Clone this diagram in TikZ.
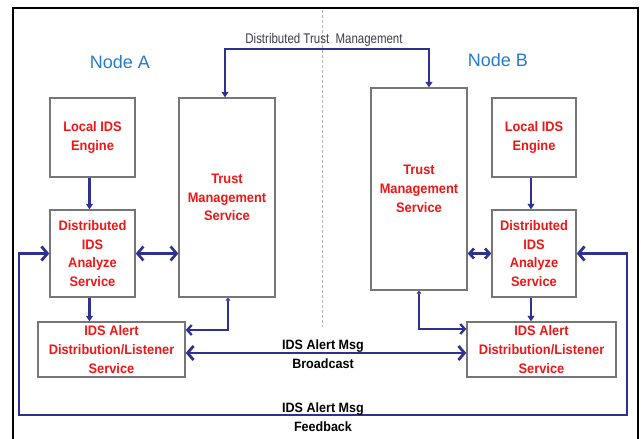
\documentclass[tikz,border=0pt]{standalone}
\usepackage{fontspec}
\setmainfont{Liberation Sans}
\newfontfamily\narrowsans[FakeStretch=0.93]{Liberation Sans}
\newfontfamily\slimsans[FakeStretch=0.82]{Liberation Sans}
\usetikzlibrary{arrows.meta}

\definecolor{idsred}{RGB}{240,22,22}
\definecolor{boxgray}{RGB}{118,118,118}
\definecolor{linknavy}{RGB}{46,49,146}
\definecolor{nodeblue}{RGB}{38,122,204}
\definecolor{notegray}{RGB}{60,60,75}

\tikzset{
  x=1pt, y=-1pt,
  svcbox/.style={draw=boxgray, line width=1.4pt, inner sep=0pt, align=center,
    text=idsred, font={\narrowsans\bfseries\fontsize{13.8}{18.7}\selectfont}},
  nodetitle/.style={text=nodeblue, font={\fontsize{18}{20}\selectfont}},
  msglabel/.style={align=center, inner sep=0pt, text=black,
    font={\narrowsans\bfseries\fontsize{13.5}{18.5}\selectfont}},
  link/.style={draw=linknavy, line width=2.6pt, line join=miter},
  barb/.tip={Straight Barb[length=6pt,width=14pt]},
  minibarb/.tip={Straight Barb[length=4.5pt,width=10pt]},
  dart/.tip={Triangle[length=5.5pt,width=7pt]},
  tinydart/.tip={Triangle[length=3pt,width=5pt]},
}

\begin{document}
\begin{tikzpicture}
\useasboundingbox (0,0) rectangle (641,439);
\fill[white] (0,0) rectangle (641,439);

% outer frame and divider between the two nodes
\draw[black, line width=2.4pt] (13,445) -- (13,8) -- (638,8) -- (638,445);
\draw[gray!60, line width=0.8pt, dash pattern=on 3pt off 2pt] (322,10) -- (322,327);

% titles
\node[nodetitle] (titleA) at (120,62) {Node A};
\node[nodetitle] (titleB) at (498,60) {Node B};

% Node A services
\node[svcbox, minimum width=85pt, minimum height=79pt] (LA) at (92.5,137.5) {Local IDS\\Engine};
\node[svcbox, minimum width=85pt, minimum height=87pt] (DA) at (92.5,253.5) {Distributed\\IDS\\Analyze\\Service};
\node[svcbox, minimum width=96pt, minimum height=199pt] (TA) at (227,197.5) {Trust\\Management\\Service};
\node[svcbox, minimum width=147pt, minimum height=55pt] (AA) at (111.5,349.5) {IDS Alert\\Distribution/Listener\\Service};

% Node B services
\node[svcbox, minimum width=96pt, minimum height=202pt] (TB) at (419,189) {Trust\\Management\\Service};
\node[svcbox, minimum width=84pt, minimum height=79pt] (LB) at (534,137.5) {Local IDS\\Engine};
\node[svcbox, minimum width=84pt, minimum height=87pt] (DB) at (534,253.5) {Distributed\\IDS\\Analyze\\Service};
\node[svcbox, minimum width=149pt, minimum height=55pt] (AB) at (541.5,349.5) {IDS Alert\\Distribution/Listener\\Service};

% distributed trust management channel
\coordinate (tmA) at (225,49);
\coordinate (tmB) at (429,49);
\draw[link, line width=2.3pt, dart-dart] ([xshift=-2pt]TA.north) -- (tmA) -- (tmB) -- ([xshift=10pt]TB.north);
\node[text=notegray, font={\slimsans\fontsize{14}{14}\selectfont}, inner sep=0pt] (tmlabel) at (324,40) {Distributed Trust\ \ Management};

% Node A internal links
\draw[link, line width=2.3pt, -dart] ([xshift=-3pt]LA.south) -- ([xshift=-3pt]DA.north);
\draw[link, barb-barb] (DA.east) -- (TA.west |- DA.east);
\draw[link, line width=2.3pt, -dart] ([xshift=-3pt]DA.south) -- ([xshift=-3pt]DA.south |- AA.north);
\draw[link, line width=2.3pt, tinydart-minibarb] ([xshift=1pt]TA.south) |- ([yshift=19.5pt]AA.east);

% Node B internal links
\draw[link, line width=2.3pt, -dart] ([xshift=-3pt]LB.south) -- ([xshift=-3pt]DB.north);
\draw[link, minibarb-minibarb] (TB.east |- DB.west) -- (DB.west);
\draw[link, line width=2.3pt, -dart] ([xshift=-3pt]DB.south) -- ([xshift=-3pt]DB.south |- AB.north);
\draw[link, line width=2.3pt, tinydart-minibarb] (TB.south) |- ([yshift=20.5pt]AB.west);

% alert broadcast between the nodes
\draw[link, line width=2.8pt, barb-barb] ([yshift=-3.5pt]AA.east) -- ([yshift=-3.5pt]AB.west);
\node[msglabel] (bclabel) at (323,354) {IDS Alert Msg\\Broadcast};

% alert feedback loop
\coordinate (fbR) at (627,415);
\coordinate (fbL) at (19,415);
\draw[link, line width=2.8pt, barb-barb] (DB.east) -| (fbR) -- (fbL) |- (DA.west);
\node[msglabel] (fblabel) at (323,417) {IDS Alert Msg\\Feedback};
\end{tikzpicture}
\end{document}
